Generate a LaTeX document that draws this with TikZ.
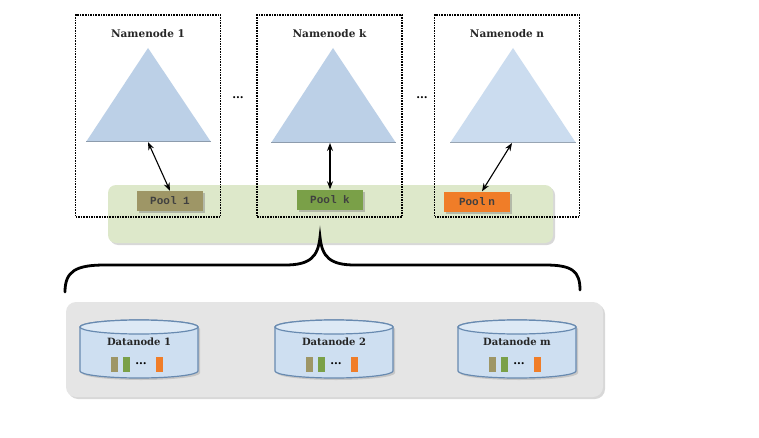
\documentclass[tikz,border=0pt]{standalone}
\usepackage{fontspec}
\setmainfont{DejaVu Serif}
\setmonofont{Liberation Mono}
\usetikzlibrary{arrows.meta, positioning, shadows}

\definecolor{triblue}{RGB}{188,208,231}
\definecolor{trilight}{RGB}{203,220,239}
\definecolor{poololive}{RGB}{158,150,102}
\definecolor{poolgreen}{RGB}{122,160,72}
\definecolor{poolorange}{RGB}{240,125,40}
\definecolor{barggreen}{RGB}{221,232,202}
\definecolor{bargray}{RGB}{229,229,229}
\definecolor{cylfill}{RGB}{206,223,241}
\definecolor{cylline}{RGB}{104,138,176}

% one datanode: name, x centre, label
\newcommand{\datanode}[3]{%
  \begin{scope}[shift={(#2,0)}]
    \path[fill=cylfill, draw=cylline, line width=1.2pt,
          drop shadow={opacity=0.3, shadow xshift=2pt, shadow yshift=-2pt}]
      (-59,110) -- (-59,66) arc[start angle=180, end angle=360, x radius=59pt, y radius=7pt]
      -- (59,110) arc[start angle=0, end angle=180, x radius=59pt, y radius=7pt] -- cycle;
    \draw[fill=cylfill!70!white, draw=cylline, line width=1.2pt] (0,110) ellipse[x radius=59pt, y radius=7pt];
    \node[dnlabel] (#1) at (0,95) {#3};
    \fill[poololive]  (-28,65) rectangle ++(7,15);
    \fill[poolgreen]  (-16,65) rectangle ++(7,15);
    \node[dots] at (2,73) {...};
    \fill[poolorange] (17,65) rectangle ++(7,15);
  \end{scope}}

\begin{document}
\begin{tikzpicture}[x=1pt, y=1pt,
  nnbox/.style={rectangle, draw, densely dotted, line width=1.6pt,
                minimum width=145pt, minimum height=202pt, inner sep=0pt},
  nntitle/.style={font=\bfseries\fontsize{10.5}{12}\selectfont, text=black!85},
  dnlabel/.style={font=\bfseries\fontsize{10}{12}\selectfont, text=black!85},
  pool/.style={rectangle, minimum width=66pt, minimum height=20pt, inner sep=0pt,
               font=\ttfamily\bfseries\fontsize{11}{13}\selectfont, text=black!75,
               drop shadow={opacity=0.45, shadow xshift=2pt, shadow yshift=-2pt}},
  tri/.style={fill=triblue},
  triedge/.style={draw=triblue!75!black, line width=1pt},
  arr/.style={{Stealth[length=8pt, width=6pt]}-{Stealth[length=8pt, width=6pt]}, line width=1.1pt},
  dots/.style={font=\bfseries\fontsize{11}{12}\selectfont, inner sep=0pt},
  bar/.style={rectangle, rounded corners=8pt, inner sep=0pt,
              drop shadow={opacity=0.3, shadow xshift=2pt, shadow yshift=-2pt}},
  brace/.style={line width=2.8pt, line cap=round}
]
  \fill[white] (0,0) rectangle (759,437);
  \useasboundingbox (0,0) rectangle (759,437);

  % Pool bar (behind namenodes)
  \node[bar, fill=barggreen, minimum width=445pt, minimum height=58pt] (poolbar) at (330.5,223) {};

  % Namenodes (top row)
  \node[nnbox] (nn1) at (148,321)   {};
  \node[nnbox] (nnk) at (329.5,321) {};
  \node[nnbox] (nnn) at (507,321)   {};
  \node[nntitle, below=12pt of nn1.north] (t1) {Namenode 1};
  \node[nntitle, below=12pt of nnk.north] (tk) {Namenode k};
  \node[nntitle, below=12pt of nnn.north] (tn) {Namenode n};

  % Namespace triangles
  \fill[tri] (86,295) -- (148,389) -- (211,295) -- cycle;
  \draw[triedge] (86,295) -- (211,295);
  \fill[tri] (271,294) -- (333,389) -- (396,294) -- cycle;
  \draw[triedge] (271,294) -- (396,294);
  \fill[tri, fill=trilight] (450,294) -- (513,389) -- (576,294) -- cycle;
  \draw[triedge, draw=trilight!75!black] (450,294) -- (576,294);
  \coordinate (b1) at (148,295);
  \coordinate (bk) at (330,294);
  \coordinate (bn) at (512,294);

  \node[dots] (d1) at (238,339) {...};
  \node[dots] (d2) at (422,339) {...};

  % Pools
  \node[pool, fill=poololive]  (pool1) at (170,236)   {Pool 1};
  \node[pool, fill=poolgreen]  (poolk) at (330,237.5) {Pool k};
  \node[pool, fill=poolorange] (pooln) at (477,235.5) {Pool\kern3pt n};

  % Arrows
  \draw[arr] (b1) -- (pool1.north);
  \draw[arr] (bk) -- (poolk.north);
  \draw[arr] (bn) -- ([xshift=5pt]pooln.north);

  % Brace
  \coordinate (brL) at (65,145);
  \coordinate (brM) at (320,200);
  \coordinate (brR) at (580,147);
  \draw[brace] (brL) .. controls (65,166) and (76,172) .. (105,172) -- (285,172)
    .. controls (310,172) and (318,180) .. (brM)
    .. controls (322,180) and (330,172) .. (355,172) -- (545,172)
    .. controls (572,172) and (580,166) .. (brR);

  % Datanodes (bottom row)
  \node[bar, fill=bargray, rounded corners=10pt, minimum width=537pt, minimum height=95pt] (dnbar) at (334.5,87.5) {};
  \datanode{dn1}{139}{Datanode 1}
  \datanode{dn2}{334}{Datanode 2}
  \datanode{dnm}{517}{Datanode m}
\end{tikzpicture}
\end{document}
